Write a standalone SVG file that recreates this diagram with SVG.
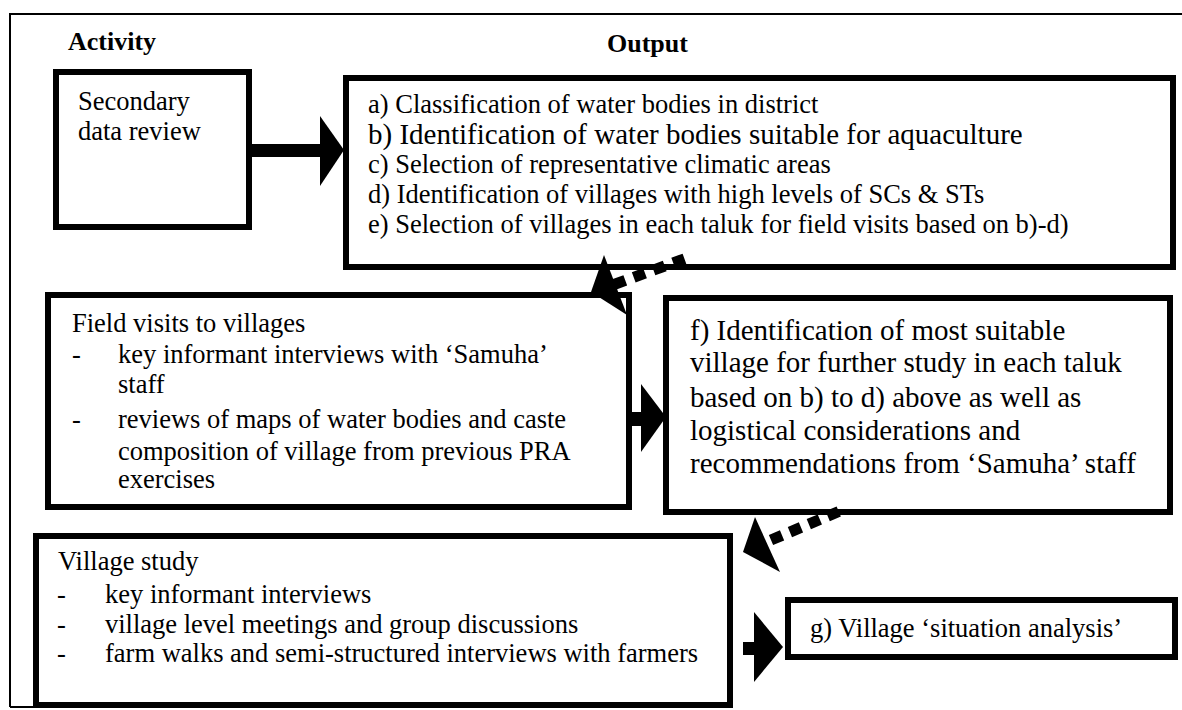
<svg xmlns="http://www.w3.org/2000/svg" width="1182" height="710" viewBox="0 0 1182 710">
<style>
  .bg { fill: #ffffff; }
  .box { fill: #ffffff; stroke: #000000; stroke-width: 6; }
  .frame { fill: none; stroke: #000000; stroke-width: 2; }
  text { font-family: 'Liberation Serif', Tinos, 'Times New Roman', 'DejaVu Serif', serif; fill: #000000; }
  .t { font-size: 26.5px; }
  .big { font-size: 29px; }
  .h { font-size: 26px; font-weight: bold; }
  .solid { fill: #000000; stroke: none; }
  .dash { fill: none; stroke: #000000; stroke-width: 11; }
</style>
<rect class="bg" x="0" y="0" width="1182" height="710"/>

<g id="frame">
  <path class="frame" d="M10,707 V14 H1182"/>
  <path class="frame" d="M10,707 H40"/>
  <text class="h" x="68" y="50" font-family="Liberation Serif, serif">Activity</text>
  <text class="h" x="607" y="52" font-family="Liberation Serif, serif">Output</text>
</g>

<g id="node-secondary">
  <rect class="box" x="56" y="72" width="193" height="155"/>
  <text class="t" x="78" y="110">Secondary</text>
  <text class="t" x="78" y="140">data review</text>
</g>

<g id="node-outputs-ae">
  <rect class="box" x="346" y="78" width="827" height="189"/>
  <text class="t" x="368" y="113">a) Classification of water bodies in district</text>
  <text class="big" x="368" y="144">b) Identification of water bodies suitable for aquaculture</text>
  <text class="t" x="368" y="173">c) Selection of representative climatic areas</text>
  <text class="t" x="368" y="203">d) Identification of villages with high levels of SCs &amp; STs</text>
  <text class="t" x="368" y="233">e) Selection of villages in each taluk for field visits based on b)-d)</text>
</g>

<g id="node-field-visits">
  <rect class="box" x="48" y="295" width="581" height="212"/>
  <text class="t" x="72" y="332">Field visits to villages</text>
  <text class="t" x="72" y="363">-</text>
  <text class="t" x="118" y="363">key informant interviews with ‘Samuha’</text>
  <text class="t" x="118" y="393">staff</text>
  <text class="t" x="72" y="428">-</text>
  <text class="t" x="118" y="428">reviews of maps of water bodies and caste</text>
  <text class="t" x="118" y="460">composition of village from previous PRA</text>
  <text class="t" x="118" y="488">exercises</text>
</g>

<g id="node-output-f">
  <rect class="box" x="666" y="298" width="504" height="214"/>
  <text class="big" x="690" y="340">f) Identification of most suitable</text>
  <text class="big" x="690" y="372">village for further study in each taluk</text>
  <text class="big" x="690" y="407">based on b) to d) above as well as</text>
  <text class="big" x="690" y="440">logistical considerations and</text>
  <text class="big" x="690" y="473">recommendations from ‘Samuha’ staff</text>
</g>

<g id="node-village-study">
  <rect class="box" x="36" y="536" width="694" height="169"/>
  <text class="t" x="58" y="570">Village study</text>
  <text class="t" x="57" y="603">-</text>
  <text class="t" x="105" y="603">key informant interviews</text>
  <text class="t" x="57" y="633">-</text>
  <text class="t" x="105" y="633">village level meetings and group discussions</text>
  <text class="t" x="57" y="662">-</text>
  <text class="t" x="105" y="662">farm walks and semi-structured interviews with farmers</text>
</g>

<g id="node-output-g">
  <rect class="box" x="788" y="600" width="387" height="57"/>
  <text class="t" x="810" y="637">g) Village ‘situation analysis’</text>
</g>

<g id="connectors">
  <rect class="solid" x="249" y="144" width="73" height="13"/>
  <polygon class="solid" points="320,116 320,186 344,150"/>
  <line class="dash" x1="614" y1="284.5" x2="688" y2="257.5" stroke-dasharray="12 9"/>
  <polygon class="solid" points="604,255 591,292 627,315"/>
  <rect class="solid" x="629" y="412" width="14" height="14"/>
  <polygon class="solid" points="641,384 641,452 666,417"/>
  <line class="dash" x1="771" y1="540" x2="840" y2="511" stroke-dasharray="12 8.5"/>
  <polygon class="solid" points="755,517 743,552 780,572"/>
  <rect class="solid" x="743" y="642" width="13" height="13"/>
  <polygon class="solid" points="754,612 754,682 783,647"/>
</g>
</svg>
